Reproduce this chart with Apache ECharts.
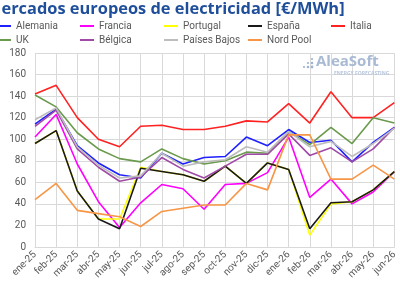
<!DOCTYPE html>
<html>
<head>
<meta charset="utf-8">
<script src="https://cdn.jsdelivr.net/npm/echarts@6/dist/echarts.min.js"></script>
<style>
html,body{margin:0;padding:0;background:#fff;}
#c{width:400px;height:300px;}
</style>
</head>
<body>
<div id="c"></div>
<script>
var categories = ['ene-25','feb-25','mar-25','abr-25','may-25','jun-25','jul-25','ago-25','sep-25','oct-25','nov-25','dic-25','ene-26','feb-26','mar-26','abr-26','may-26','jun-26'];
var yTicks = [0,20,40,60,80,100,120,140,160,180];
var alemania    = [114,128,94,78,67,64,87,77,83,84,102,94,109,97,99,79,97,111];
var francia     = [102,123,77,42,18,41,58,54,35,58,59,69,102,46,63,40,51,70];
var portugal    = [96,108,52,26,26,74,70,67,61,75,59,78,72,11,40,42,53,70];
var espana      = [96,108,52,26,17,73,70,67,61,75,59,78,72,17,41,42,53,70];
var italia      = [142,150,120,100,93,112,113,109,109,112,117,116,133,115,144,120,120,134];
var uk          = [141,130,106,91,82,79,91,82,77,80,88,87,107,95,111,96,120,115];
var belgica     = [112,127,91,74,61,65,83,72,64,75,86,86,105,85,92,79,91,111];
var paisesBajos = [118,129,93,76,64,66,87,75,79,81,93,88,107,93,98,84,96,110];
var nordPool    = [44,59,34,31,28,19,33,36,39,39,59,53,104,104,63,63,76,63];

var names = ['Alemania','Francia','Portugal','España','Italia','UK','Bélgica','Países Bajos','Nord Pool'];
var values = [alemania,francia,portugal,espana,italia,uk,belgica,paisesBajos,nordPool];
var colors = ['#1f1fff','#ff00ff','#ffff00','#1a1a1a','#ff2222','#6a9a4c','#a04aa6','#bdbdbd','#f79646'];

var legendPos = [
  [16,21],[99,21],[183,21],[267,21],[350,21],
  [16,35],[99,35],[183,35],[267,35]
];

var legends = names.map(function(n,i){
  return {
    data:[n], left: legendPos[i][0]-19, top: legendPos[i][1], padding:0,
    icon:'rect', itemWidth:14, itemHeight:2,
    textStyle:{color:'#595959', fontSize:10, fontFamily:'Roboto'}
  };
});

var series = names.map(function(n,i){
  return {
    name:n, type:'line', data:values[i], symbol:'none',
    lineStyle:{color:colors[i], width:1.6}, itemStyle:{color:colors[i]},
    emphasis:{disabled:true}
  };
});

var dots = [[304,67,1.1],[308,67,1.3],[308,63,1.1],[312,67,1.4],[312,63,1.3],[312,59,1.1]];
var dotGraphics = dots.map(function(d){
  return {type:'circle', z:1, shape:{cx:d[0], cy:d[1], r:d[2]}, style:{fill:'#9fb3d1'}};
});

var chart = echarts.init(document.getElementById('c'), null, {renderer:'canvas'});
chart.setOption({
  animation:false,
  backgroundColor:'#fff',
  title:{text:'Mercados europeos de electricidad [€/MWh]', left:-14, top:1, padding:0,
    textStyle:{color:'#1f4e9a', fontSize:16.4, fontWeight:'bold', fontFamily:'Open Sans'}},
  legend: legends,
  grid:{left:35, right:-8, top:53, bottom:53},
  xAxis:{type:'category', data:categories, boundaryGap:false,
    axisLine:{show:true, lineStyle:{color:'#d9d9d9'}},
    axisTick:{show:false},
    splitLine:{show:true, interval:0, lineStyle:{color:'#d9d9d9', width:1}},
    axisLabel:{rotate:45, interval:0, color:'#595959', fontSize:10, fontFamily:'Roboto', margin:6}},
  yAxis:{type:'value', min:yTicks[0], max:yTicks[yTicks.length-1], interval:yTicks[1]-yTicks[0],
    axisLine:{show:false}, axisTick:{show:false},
    splitLine:{lineStyle:{color:'#d9d9d9', width:1}},
    axisLabel:{color:'#595959', fontSize:10, fontFamily:'Roboto', margin:9}},
  graphic:[
    {type:'text', left:316, top:54, z:1, style:{text:'AleaSoft', fill:'#a9bad4', font:'bold 15px "Open Sans"'}},
    {type:'text', left:334, top:71, z:1, style:{text:'ENERGY FORECASTING', fill:'#b8c6dc', font:'bold 5px "Open Sans"'}}
  ].concat(dotGraphics),
  series: series
});
</script>
</body>
</html>
